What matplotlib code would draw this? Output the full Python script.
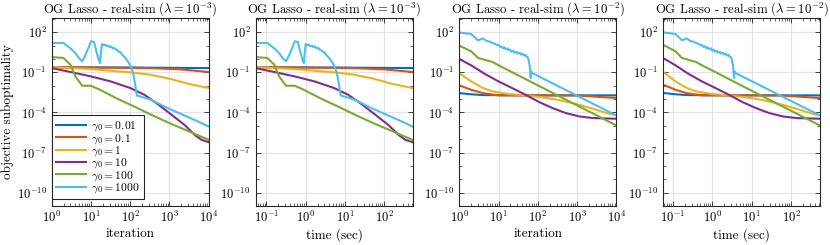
import numpy as np
import matplotlib
matplotlib.use("Agg")
import matplotlib.pyplot as plt
from matplotlib.ticker import FixedLocator, LogLocator, NullFormatter, LogFormatterSciNotation

plt.rcParams['font.family'] = ['cmr10', 'DejaVu Serif']
plt.rcParams['mathtext.fontset'] = 'cm'
plt.rcParams['axes.formatter.use_mathtext'] = True
plt.rcParams['axes.unicode_minus'] = False

# ---------------- data ----------------
gamma_labels = ['0.01', '0.1', '1', '10', '100', '1000']
colors = ['#0072BD', '#D95319', '#EDB120', '#7E2F8E', '#77AC30', '#4DBEEE']

# lambda = 1e-3 : objective suboptimality vs iteration
it3_g001 = [1, 100, 10000]
f3_g001 = [0.24, 0.23, 0.21]
it3_g01 = [1, 10, 100, 316, 2000, 10000]
f3_g01 = [0.25, 0.234, 0.22, 0.21, 0.166, 0.107]
it3_g1 = [1, 3, 10, 100, 316, 1000, 3162, 10000]
f3_g1 = [0.25, 0.21, 0.178, 0.1, 0.068, 0.034, 0.0135, 0.0068]
it3_g10 = [1, 3, 10, 32, 100, 230, 500, 1000, 2400, 4400, 6600, 10000]
f3_g10 = [0.21, 0.107, 0.05, 0.021, 6.8e-3, 2.1e-3, 4.3e-4, 8.9e-5, 1.2e-5, 2.1e-6, 8.9e-7, 6.0e-7]
it3_g100 = [1, 2, 3, 4, 6, 10, 17, 47, 126, 340, 1000, 3162, 10000]
f3_g100 = [1.4, 1.2, 0.38, 0.05, 0.01, 0.01, 5e-3, 1.07e-3, 2.8e-4, 6.8e-5, 1.6e-5, 3.8e-6, 8.9e-7]
it3_g1000 = [1, 2, 3, 4, 5, 6, 7, 8, 9, 10, 12, 14, 15, 16, 17, 18, 19, 21, 23, 25, 28, 30,
             33, 36, 40, 43, 47, 51, 56, 62, 69, 80, 93, 105, 115, 124, 132, 140, 148, 204,
             339, 912, 2400, 5370, 10000]
f3_g1000 = [15.8, 15.8, 6.3, 2.8, 1.12, 0.68, 1.62, 4.1, 9.3, 21.4, 19.1, 3.0, 1.45, 0.79, 0.5,
            3.16, 13.5, 10.5, 12.0, 9.1, 10.0, 7.6, 8.5, 6.3, 6.6, 5.0, 4.8, 3.5, 3.3, 2.2, 1.58,
            0.95, 0.5, 0.25, 0.117, 0.045, 0.0158, 5.0e-3, 1.86e-3, 1.41e-3, 8.9e-4, 2.1e-4,
            6.0e-5, 2.1e-5, 8.9e-6]

# lambda = 1e-2 : objective suboptimality vs iteration
it2_g001 = [1, 2, 4, 100, 10000]
f2_g001 = [2.8e-3, 2.3e-3, 2.0e-3, 1.9e-3, 1.9e-3]
it2_g01 = [1, 2, 4, 10, 1000, 10000]
f2_g01 = [0.0107, 5.0e-3, 2.8e-3, 1.9e-3, 1.9e-3, 1.2e-3]
it2_g1 = [1, 2, 4, 7, 18, 49, 132, 355, 955, 2570, 5750, 10000]
f2_g1 = [0.089, 0.021, 6.8e-3, 3.8e-3, 2.4e-3, 1.9e-3, 1.35e-3, 8.5e-4, 4.3e-4, 1.9e-4, 8.9e-5, 6.0e-5]
it2_g10 = [1, 2, 4.5, 10, 22, 49, 108, 240, 525, 1175, 2570, 10000]
f2_g10 = [1.0, 0.34, 0.076, 0.021, 6.8e-3, 2.1e-3, 6.0e-4, 2.1e-4, 8.9e-5, 5.0e-5, 3.8e-5, 3.4e-5]
it2_g100 = [1, 2, 3, 7, 10, 100, 1000, 10000]
f2_g100 = [10.0, 3.8, 1.2, 0.6, 0.34, 0.0107, 3.4e-4, 1.07e-5]
it2_g1000 = [1, 2, 3, 4, 5, 6, 7, 8, 9, 10, 11, 12, 13, 14, 15, 17, 18, 20, 21, 24, 25, 29, 30,
             35, 36, 42, 43, 49, 50, 54, 57, 62, 66, 68, 72, 10000]
f2_g1000 = [95, 75, 25, 35, 22, 20, 15.8, 14.1, 11.2, 11.2, 7.9, 8.9, 6.3, 7.6, 5.5, 6.3, 4.4,
            5.0, 3.6, 4.2, 3.0, 3.4, 2.6, 2.9, 2.2, 2.4, 1.86, 2.0, 1.58, 1.41, 1.12, 0.32,
            0.038, 0.117, 0.089, 6.0e-5]

# measured wall-clock timing (seconds) of the runs
sec_per_iter_lam3, setup_sec_lam3 = 0.0525, 0.0
sec_per_iter_lam2, setup_sec_lam2 = 0.054, 0.008

runs_lam3 = [(it3_g001, f3_g001), (it3_g01, f3_g01), (it3_g1, f3_g1),
             (it3_g10, f3_g10), (it3_g100, f3_g100), (it3_g1000, f3_g1000)]
runs_lam2 = [(it2_g001, f2_g001), (it2_g01, f2_g01), (it2_g1, f2_g1),
             (it2_g10, f2_g10), (it2_g100, f2_g100), (it2_g1000, f2_g1000)]

titles = [r'OG Lasso - real-sim ($\lambda = 10^{-3}$)', r'OG Lasso - real-sim ($\lambda = 10^{-3}$)',
          r'OG Lasso - real-sim ($\lambda = 10^{-2}$)', r'OG Lasso - real-sim ($\lambda = 10^{-2}$)']

# ---------------- figure ----------------
W, H = 830, 245
fig = plt.figure(figsize=(W / 100, H / 100), dpi=100)
lefts = [51.7, 255.5, 459.3, 663.0]
aw, ab, ah = 157.0, 39.0, 188.0

grid_c = '#e3e3e3'
edge_c = '#262626'

for k in range(4):
    ax = fig.add_axes([lefts[k] / W, ab / H, aw / W, ah / H])
    runs = runs_lam3 if k < 2 else runs_lam2
    use_time = k % 2 == 1
    spi = sec_per_iter_lam3 if k < 2 else sec_per_iter_lam2
    st = setup_sec_lam3 if k < 2 else setup_sec_lam2
    for j, (it, f) in enumerate(runs):
        x = np.asarray(it, float)
        if use_time:
            x = st + spi * x
        ax.plot(x, f, color=colors[j], lw=1.5, label=r'$\gamma_0 = %s$' % gamma_labels[j],
                solid_joinstyle='round')
    ax.set_xscale('log')
    ax.set_yscale('log')
    ax.set_ylim(1e-11, 10 ** 3.07)
    if use_time:
        if k == 1:
            ax.set_xlim(0.0525, 525)
        else:
            ax.set_xlim(0.056, 545)
        ax.set_xlabel('time (sec)', fontsize=9.5, labelpad=2)
    else:
        ax.set_xlim(1, 1e4)
        ax.set_xlabel('iteration', fontsize=9.5, labelpad=2)
    ax.yaxis.set_major_locator(FixedLocator([1e-10, 1e-7, 1e-4, 1e-1, 1e2]))
    ax.yaxis.set_major_formatter(LogFormatterSciNotation())
    ax.yaxis.set_minor_locator(FixedLocator([10.0 ** e for e in range(-11, 4)]))
    ax.yaxis.set_minor_formatter(NullFormatter())
    ax.xaxis.set_major_locator(LogLocator(base=10, numticks=12))
    ax.xaxis.set_minor_locator(LogLocator(base=10, subs=np.arange(2, 10), numticks=12))
    ax.xaxis.set_minor_formatter(NullFormatter())
    ax.grid(True, which='major', color=grid_c, lw=0.8)
    ax.set_axisbelow(True)
    ax.tick_params(which='both', direction='in', top=True, right=True, colors=edge_c,
                   labelcolor='black', labelsize=9)
    ax.tick_params(which='major', length=3.5, width=0.6)
    ax.tick_params(which='minor', length=2, width=0.5)
    ax.tick_params(axis='x', pad=3)
    for s in ax.spines.values():
        s.set_color(edge_c)
        s.set_linewidth(0.8)
    ax.set_title(titles[k], fontsize=9.2, pad=3)
    if k == 0:
        ax.set_ylabel('objective suboptimality', fontsize=9.5, labelpad=2)
        leg = ax.legend(loc='lower left', bbox_to_anchor=(0.004, 0.035), fontsize=8.4,
                        handlelength=2.5, handletextpad=0.5, labelspacing=-0.12,
                        borderpad=0.35, borderaxespad=0.0, fancybox=False, framealpha=1)
        leg.get_frame().set_edgecolor(edge_c)
        leg.get_frame().set_linewidth(0.8)

fig.savefig('out.png', dpi=100)
